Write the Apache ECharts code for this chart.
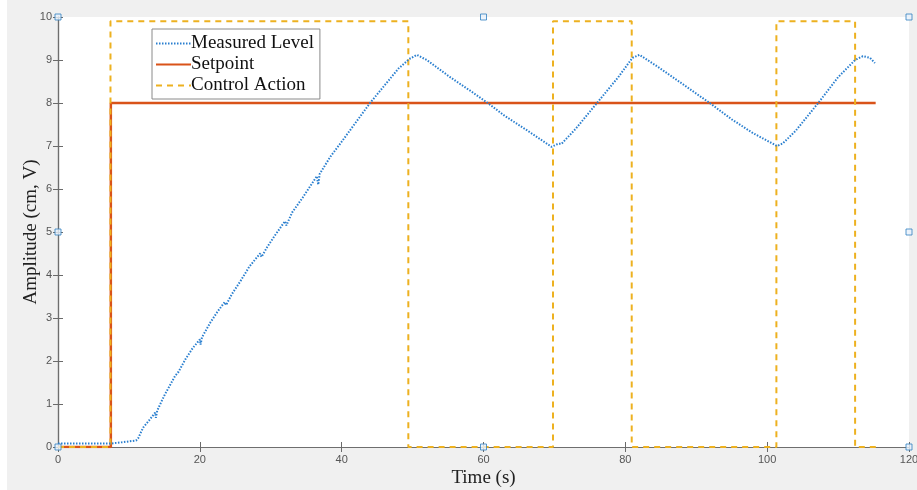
<!DOCTYPE html>
<html>
<head>
<meta charset="utf-8">
<script src="https://cdn.jsdelivr.net/npm/echarts@6/dist/echarts.min.js"></script>
<style>
html,body{margin:0;padding:0;background:#ffffff;}
#c{width:917px;height:490px;}
</style>
</head>
<body>
<div id="c"></div>
<script>
// ---- data ----
const xTicks = [0, 20, 40, 60, 80, 100, 120];
const yTicks = [0, 1, 2, 3, 4, 5, 6, 7, 8, 9, 10];
const seriesNames = ['Measured Level', 'Setpoint', 'Control Action'];

const measuredLevel = [
  [0,0.08],[7.4,0.08],[7.5,0.11],[9,0.11],[11,0.15],[11.3,0.2],[12,0.45],[13,0.65],
  [13.7,0.8],[13.8,0.68],[14,0.85],[15,1.2],[16.5,1.65],[17,1.75],[18,2.05],[19,2.3],
  [20,2.5],[20.1,2.38],[20.3,2.55],[21.5,2.9],[22.5,3.15],[23.5,3.37],[23.7,3.3],[24.5,3.55],
  [25.7,3.85],[27,4.2],[28.5,4.5],[28.7,4.42],[29.5,4.65],[30.5,4.9],[32,5.25],[32.2,5.15],
  [33,5.45],[34.5,5.8],[36.5,6.3],[36.7,6.1],[36.9,6.35],[38.4,6.75],[40,7.1],[42,7.55],
  [44,8.0],[46,8.4],[48,8.8],[49.5,9.02],[50.6,9.12],[52,9.0],[55.3,8.6],[58,8.3],
  [60.6,8.0],[63,7.7],[66,7.38],[69.6,6.98],[70.5,7.05],[71,7.05],[73,7.4],[76,8.0],
  [79,8.6],[81,9.05],[82,9.12],[84.6,8.84],[88,8.45],[91.9,8.0],[95,7.62],[98,7.3],
  [101.4,7.0],[102.2,7.06],[104,7.35],[107.2,8.0],[110,8.6],[112.4,9.0],[113.5,9.09],
  [114.5,9.05],[115.2,8.93]
];
const setpoint = [[0,0],[7.45,0],[7.45,8],[115.3,8]];
const controlAction = [
  [0,0],[7.4,0],[7.4,9.9],[49.4,9.9],[49.4,0],[69.8,0],[69.8,9.9],[80.9,9.9],[80.9,0],
  [101.3,0],[101.3,9.9],[112.4,9.9],[112.4,0],[115.5,0]
];
// MATLAB selection handles (data units)
const handles = [[0,10],[60,10],[120,10],[0,5],[120,5],[0,0],[60,0],[120,0]];

// ---- chart ----
const chart = echarts.init(document.getElementById('c'), null, {renderer:'canvas'});
const axisLine = {show:true, lineStyle:{color:'#6e6e6e', width:1.2}};
const tickStyle = {show:true, inside:true, length:5, lineStyle:{color:'#6a6a6a', width:1}};
const labelStyle = {color:'#555555', fontSize:11, fontFamily:'Liberation Sans, Arial, sans-serif'};
const serif = 'Liberation Serif, Times New Roman, serif';

chart.setOption({
  animation:false,
  backgroundColor:'#ffffff',
  graphic:[{type:'rect', z:-10, silent:true, shape:{x:7, y:0, width:910, height:490}, style:{fill:'#f0f0f0'}}],
  grid:{left:58, right:8, top:17, bottom:43, show:true, backgroundColor:'#ffffff', borderWidth:0,
        containLabel:false, outerBoundsMode:'none'},
  legend:{
    data:seriesNames,
    orient:'vertical', left:152, top:29,
    backgroundColor:'#ffffff', borderColor:'#8a8a8a', borderWidth:1, borderRadius:0,
    padding:[5,6,4,3], itemGap:2, itemWidth:35, itemHeight:19,
    itemStyle:{opacity:0},
    textStyle:{fontFamily:serif, fontSize:19, color:'#111', padding:[0,0,0,-5]}
  },
  xAxis:[
    {type:'value', min:0, max:120, interval:20, position:'bottom',
     axisLine:axisLine, axisTick:tickStyle, splitLine:{show:false},
     axisLabel:Object.assign({margin:7, formatter:(v)=>xTicks.includes(v)?String(v):''}, labelStyle),
     name:'Time (s)', nameLocation:'middle', nameGap:22, nameMoveOverlap:false,
     nameTextStyle:{fontFamily:serif, fontSize:19, color:'#222'}},
    {type:'value', min:0, max:120, interval:20, position:'top',
     axisLine:axisLine, axisTick:tickStyle, splitLine:{show:false}, axisLabel:{show:false}}
  ],
  yAxis:[
    {type:'value', min:0, max:10, interval:1, position:'left',
     axisLine:axisLine, axisTick:tickStyle, splitLine:{show:false},
     axisLabel:Object.assign({margin:6, formatter:(v)=>yTicks.includes(v)?String(v):''}, labelStyle),
     name:'Amplitude (cm, V)', nameLocation:'middle', nameGap:17, nameMoveOverlap:false,
     nameTextStyle:{fontFamily:serif, fontSize:19, color:'#222'}},
    {type:'value', min:0, max:10, interval:1, position:'right',
     axisLine:axisLine, axisTick:tickStyle, splitLine:{show:false}, axisLabel:{show:false}}
  ],
  series:[
    {name:'Control Action', type:'line', data:controlAction, symbol:'none', z:3,
     lineStyle:{color:'#EDB120', width:2, type:[6,5]}, itemStyle:{color:'#EDB120'}},
    {name:'Setpoint', type:'line', data:setpoint, symbol:'none', z:2,
     lineStyle:{color:'#D95319', width:2.5}, itemStyle:{color:'#D95319'}},
    {name:'Measured Level', type:'line', data:measuredLevel, symbol:'none', z:4,
     lineStyle:{color:'#2a7fcf', width:2, type:[1.5,1.5]}, itemStyle:{color:'#2a7fcf'}},
    {name:'handles', type:'scatter', data:handles, symbol:'rect', symbolSize:6, z:10,
     clip:false, silent:true,
     itemStyle:{color:'#e8f1fb', borderColor:'#2f7fc1', borderWidth:1}}
  ]
});
</script>
</body>
</html>
